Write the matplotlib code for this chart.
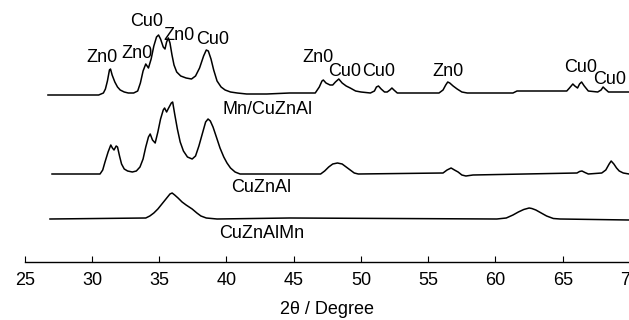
import numpy as np
import matplotlib
matplotlib.use("Agg")
import matplotlib.pyplot as plt

plt.rcParams['font.family'] = ['Liberation Sans', 'DejaVu Sans']

# Mn/CuZnAl (top trace) : 2theta, intensity above its baseline
tt_mn = [26.73, 30.5, 30.85, 31.0, 31.15, 31.3, 31.38, 31.5, 31.7, 31.9,
         32.1, 32.4, 32.7, 33.1, 33.4, 33.6, 33.8, 34.0, 34.1, 34.2,
         34.4, 34.6, 34.8, 34.95, 35.1, 35.3, 35.43, 35.55, 35.68, 35.8,
         35.95, 36.1, 36.3, 36.6, 37.0, 37.4, 37.7, 38.0, 38.3, 38.5,
         38.65, 38.85, 39.05, 39.3, 39.6, 39.9, 40.3, 40.8, 41.5, 43.0,
         44.7, 46.6, 46.9, 47.1, 47.2, 47.4, 47.7, 47.9, 48.1, 48.35,
         48.6, 48.9, 49.2, 49.6, 50.0, 50.7, 51.0, 51.15, 51.3, 51.5,
         51.75, 51.95, 52.15, 52.3, 52.45, 52.7, 54.6, 55.8, 56.1, 56.3,
         56.45, 56.6, 56.85, 57.15, 57.5, 57.9, 61.3, 61.6, 65.3, 65.5,
         65.75, 65.9, 66.1, 66.25, 66.4, 66.6, 66.9, 67.6, 67.85, 68.0,
         68.15, 68.4, 69.96]
int_mn = [0, 0, 2, 6, 14, 25, 26, 20, 13, 8,
          5, 3, 2, 2, 4, 12, 24, 31, 29, 27,
          36, 49, 58, 60, 56, 48, 46, 53, 57, 52,
          40, 30, 23, 19, 17, 16, 19, 27, 39, 45,
          44, 36, 25, 14, 8, 5, 3, 2, 1, 1,
          2, 2, 8, 14, 15, 12, 10, 10, 13, 16,
          12, 9, 7, 4, 3, 2, 4, 8, 9, 6,
          3, 3, 5, 7, 5, 2, 2, 2, 5, 10,
          13, 12, 9, 6, 3, 2, 2, 4, 4, 7,
          11, 9, 7, 11, 13, 9, 4, 3, 5, 8,
          6, 3, 3]

# CuZnAl (middle trace)
tt_cza = [27.03, 30.6, 30.8, 30.97, 31.2, 31.4, 31.52, 31.64, 31.8, 31.9,
          32.05, 32.2, 32.4, 32.65, 33.0, 33.3, 33.57, 33.8, 34.0, 34.2,
          34.33, 34.5, 34.7, 34.9, 35.1, 35.3, 35.4, 35.55, 35.7, 35.9,
          36.0, 36.15, 36.35, 36.56, 36.8, 37.1, 37.45, 37.7, 37.95, 38.2,
          38.45, 38.63, 38.8, 39.0, 39.25, 39.52, 39.8, 40.04, 40.3, 40.64,
          41.01, 47.0, 47.3, 47.6, 47.9, 48.25, 48.6, 48.9, 49.2, 49.5,
          49.8, 56.1, 56.4, 56.7, 56.95, 57.22, 57.5, 57.8, 58.33, 66.06,
          66.25, 66.43, 66.65, 66.9, 67.9, 68.2, 68.45, 68.6, 68.8, 69.0,
          69.2, 69.5, 69.93]
int_cza = [0, 0, 4, 12, 22, 29, 26, 24, 28, 27,
           18, 10, 5, 3, 2, 3, 7, 15, 27, 37,
           40, 34, 31, 42, 55, 64, 66, 62, 66, 71,
           72, 60, 45, 32, 23, 17, 15, 18, 28, 40,
           52, 55, 53, 47, 37, 26, 17, 11, 6, 2,
           0, 0, 3, 7, 10, 11, 10, 7, 4, 1,
           0, 1, 4, 6, 4, 2, -1, -2, -1, 1,
           2.5, 3, 1.5, 0, 1, 4, 10, 13, 10, 6,
           3, 1, 0]

# CuZnAlMn (bottom trace)
tt_czam = [26.88, 34.0, 34.3, 34.6, 34.9, 35.2, 35.5, 35.8, 35.96, 36.15,
           36.4, 36.7, 37.0, 37.45, 37.8, 38.1, 38.5, 39.3, 44.7, 60.1,
           60.8, 61.3, 61.7, 62.1, 62.5, 62.7, 63.0, 63.4, 63.8, 64.3,
           64.8, 69.93]
int_czam = [0, 1, 3, 6, 10, 15, 20, 25, 26, 24,
            21, 17, 14, 10, 6, 3, 1, 0, 1, 0,
            1, 4, 7, 9.5, 11, 10.5, 9, 6, 3, 0.5,
            0, -1]

# phase labels over the Mn/CuZnAl peaks
peak_names = ["Zn0", "Zn0", "Cu0", "Zn0", "Cu0", "Zn0", "Cu0", "Cu0", "Zn0", "Cu0", "Cu0"]
peak_tt = [30.75, 33.35, 34.1, 36.45, 38.94, 46.8, 48.8, 51.3, 56.5, 66.3, 68.5]
peak_lab_y = [205, 209, 240, 227, 222, 204, 190, 190, 191, 195, 182]

sample_names = ["Mn/CuZnAl", "CuZnAl", "CuZnAlMn"]
xticks = [25, 30, 35, 40, 45, 50, 55, 60, 65, 70]


def main():
    fig = plt.figure(figsize=(6.29, 3.2), dpi=100)
    ax = fig.add_axes([24.7 / 629, 58 / 320, 605.3 / 629, 262 / 320])

    offsets = [167, 88, 43]
    traces = [(tt_mn, int_mn), (tt_cza, int_cza), (tt_czam, int_czam)]
    for (x, y), off in zip(traces, offsets):
        ax.plot(x, np.array(y) + off, color="black", lw=1.1)

    fs = 13
    for name, t, yy in zip(peak_names, peak_tt, peak_lab_y):
        ax.text(t, yy, name, ha="center", va="center", fontsize=fs)

    ax.text(43.05, 152, sample_names[0], ha="center", va="center", fontsize=fs)
    ax.text(42.58, 74.5, sample_names[1], ha="center", va="center", fontsize=fs)
    ax.text(42.6, 29, sample_names[2], ha="center", va="center", fontsize=fs)

    ax.set_xlim(25, 70)
    ax.set_ylim(0, 262)
    ax.set_xticks(xticks)
    ax.set_yticks([])
    for s in ["top", "left", "right"]:
        ax.spines[s].set_visible(False)
    ax.spines["bottom"].set_linewidth(1.0)
    ax.tick_params(axis="x", direction="in", length=4, pad=7, labelsize=fs)
    ax.set_xlabel("2θ / Degree", fontsize=fs, labelpad=9)
    ax.patch.set_visible(False)

    fig.savefig("out.png", dpi=100)


if __name__ == '__main__':
    main()
